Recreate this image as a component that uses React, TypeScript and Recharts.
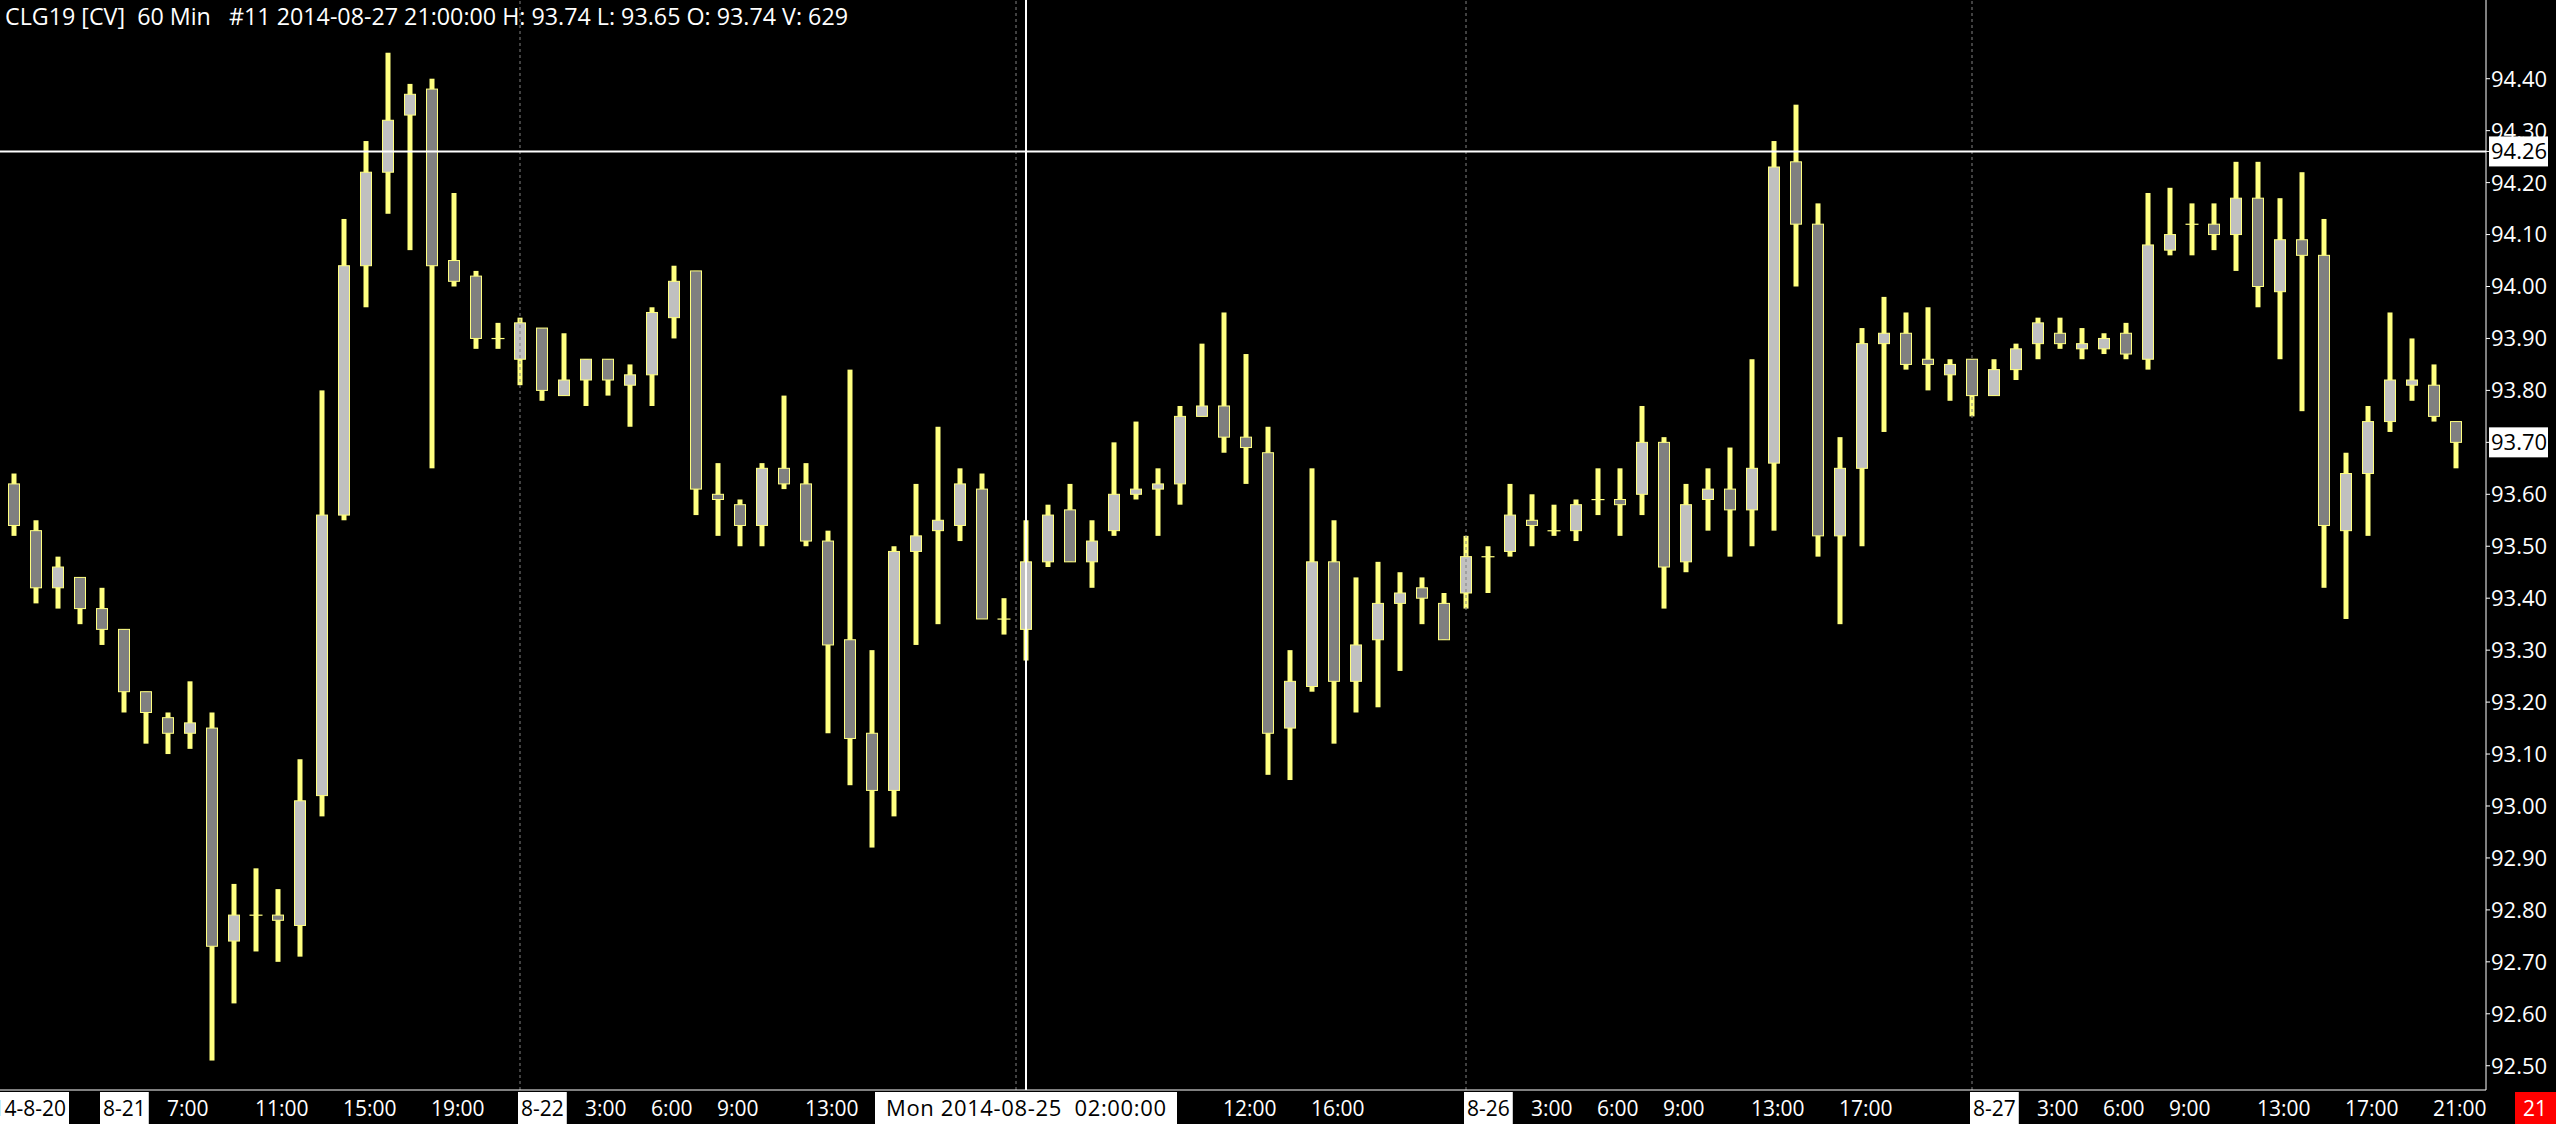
import React, { useLayoutEffect, useRef, useState } from 'react';
import { ComposedChart, Bar, XAxis, YAxis, ReferenceLine } from 'recharts';

// CLG19 [CV] 60 min bars, 2014-08-20 .. 2014-08-27
const opens = [
  93.62, 93.53, 93.42, 93.44, 93.38, 93.34, 93.22, 93.17, 93.14, 93.15,
  92.74, 92.79, 92.79, 92.77, 93.02, 93.56, 94.04, 94.22, 94.33, 94.38,
  94.05, 94.02, 93.90, 93.86, 93.92, 93.79, 93.82, 93.86, 93.81, 93.83,
  93.94, 94.03, 93.60, 93.58, 93.54, 93.65, 93.62, 93.51, 93.32, 93.14,
  93.03, 93.49, 93.53, 93.54, 93.61, 93.36, 93.34, 93.47, 93.57, 93.47,
  93.53, 93.60, 93.61, 93.62, 93.75, 93.77, 93.71, 93.68, 93.15, 93.23,
  93.47, 93.24, 93.32, 93.39, 93.42, 93.39, 93.41, 93.48, 93.49, 93.55,
  93.53, 93.53, 93.59, 93.59, 93.60, 93.70, 93.47, 93.59, 93.61, 93.57,
  93.66, 94.24, 94.12, 93.52, 93.65, 93.89, 93.91, 93.86, 93.83, 93.86,
  93.79, 93.84, 93.89, 93.91, 93.88, 93.88, 93.91, 93.86, 94.07, 94.12,
  94.12, 94.10, 94.17, 93.99, 94.09, 94.06, 93.53, 93.64, 93.74, 93.81,
  93.81, 93.74,
];
const highs = [
  93.64, 93.55, 93.48, 93.44, 93.42, 93.34, 93.22, 93.18, 93.24, 93.18,
  92.85, 92.88, 92.84, 93.09, 93.80, 94.13, 94.28, 94.45, 94.39, 94.40,
  94.18, 94.03, 93.93, 93.94, 93.92, 93.91, 93.86, 93.86, 93.85, 93.96,
  94.04, 94.03, 93.66, 93.59, 93.66, 93.79, 93.66, 93.53, 93.84, 93.30,
  93.50, 93.62, 93.73, 93.65, 93.64, 93.40, 93.55, 93.58, 93.62, 93.55,
  93.70, 93.74, 93.65, 93.77, 93.89, 93.95, 93.87, 93.73, 93.30, 93.65,
  93.55, 93.44, 93.47, 93.45, 93.44, 93.41, 93.52, 93.50, 93.62, 93.60,
  93.58, 93.59, 93.65, 93.65, 93.77, 93.71, 93.62, 93.65, 93.69, 93.86,
  94.28, 94.35, 94.16, 93.71, 93.92, 93.98, 93.95, 93.96, 93.86, 93.86,
  93.86, 93.89, 93.94, 93.94, 93.92, 93.91, 93.93, 94.18, 94.19, 94.16,
  94.16, 94.24, 94.24, 94.17, 94.22, 94.13, 93.68, 93.77, 93.95, 93.90,
  93.85, 93.74,
];
const lows = [
  93.52, 93.39, 93.38, 93.35, 93.31, 93.18, 93.12, 93.10, 93.11, 92.51,
  92.62, 92.72, 92.70, 92.71, 92.98, 93.55, 93.96, 94.14, 94.07, 93.65,
  94.00, 93.88, 93.88, 93.81, 93.78, 93.79, 93.77, 93.79, 93.73, 93.77,
  93.90, 93.56, 93.52, 93.50, 93.50, 93.61, 93.50, 93.14, 93.04, 92.92,
  92.98, 93.31, 93.35, 93.51, 93.36, 93.33, 93.28, 93.46, 93.47, 93.42,
  93.52, 93.59, 93.52, 93.58, 93.75, 93.68, 93.62, 93.06, 93.05, 93.22,
  93.12, 93.18, 93.19, 93.26, 93.35, 93.32, 93.38, 93.41, 93.48, 93.50,
  93.52, 93.51, 93.56, 93.52, 93.56, 93.38, 93.45, 93.53, 93.48, 93.50,
  93.53, 94.00, 93.48, 93.35, 93.50, 93.72, 93.84, 93.80, 93.78, 93.75,
  93.79, 93.82, 93.86, 93.88, 93.86, 93.87, 93.86, 93.84, 94.06, 94.06,
  94.07, 94.03, 93.96, 93.86, 93.76, 93.42, 93.36, 93.52, 93.72, 93.78,
  93.74, 93.65,
];
const closes = [
  93.54, 93.42, 93.46, 93.38, 93.34, 93.22, 93.18, 93.14, 93.16, 92.73,
  92.79, 92.79, 92.78, 93.01, 93.56, 94.04, 94.22, 94.32, 94.37, 94.04,
  94.01, 93.90, 93.90, 93.93, 93.80, 93.82, 93.86, 93.82, 93.83, 93.95,
  94.01, 93.61, 93.59, 93.54, 93.65, 93.62, 93.51, 93.31, 93.13, 93.03,
  93.49, 93.52, 93.55, 93.62, 93.36, 93.36, 93.47, 93.56, 93.47, 93.51,
  93.60, 93.61, 93.62, 93.75, 93.77, 93.71, 93.69, 93.14, 93.24, 93.47,
  93.24, 93.31, 93.39, 93.41, 93.40, 93.32, 93.48, 93.48, 93.56, 93.54,
  93.53, 93.58, 93.59, 93.58, 93.70, 93.46, 93.58, 93.61, 93.57, 93.65,
  94.23, 94.12, 93.52, 93.65, 93.89, 93.91, 93.85, 93.85, 93.85, 93.79,
  93.84, 93.88, 93.93, 93.89, 93.89, 93.90, 93.87, 94.08, 94.10, 94.12,
  94.10, 94.17, 94.00, 94.09, 94.06, 93.54, 93.64, 93.74, 93.82, 93.82,
  93.75, 93.70,
];

// bottom axis labels (bar index -> text)
const timeTickBars = [0, 4, 7, 11, 15, 19, 23, 26, 29, 32, 36, 46, 55, 59, 66, 69, 72, 75, 79, 83, 89, 92, 95, 98, 102, 106, 110];
const timeTickLabels = [
  '2014-8-20', '8-21', '7:00', '11:00', '15:00', '19:00', '8-22', '3:00', '6:00', '9:00', '13:00',
  'Mon 2014-08-25  02:00:00', '12:00', '16:00', '8-26', '3:00', '6:00', '9:00', '13:00', '17:00',
  '8-27', '3:00', '6:00', '9:00', '13:00', '17:00', '21:00',
];
const dayStartBars = [4, 23, 66, 89];
const priceTicks = [
  92.5, 92.6, 92.7, 92.8, 92.9, 93.0, 93.1, 93.2, 93.3, 93.4,
  93.5, 93.6, 93.7, 93.8, 93.9, 94.0, 94.1, 94.2, 94.3, 94.4,
];
const cursorPrice = 94.26;
const lastPrice = 93.7;
const cursorBar = 46;

const W = 2556;
const H = 1124;
const FONT = '"Open Sans", "Noto Sans", sans-serif';
const WICK = '#ffff80';
const LABEL_Y = 1116;

const data = opens.map((o, i) => ({ i, o, h: highs[i], l: lows[i], c: closes[i] }));

const Candle = (props: any) => {
  const { x, y, width, height, payload } = props;
  const { o, h, l, c } = payload;
  const cx = x + width / 2;
  const k = h === l ? 0 : height / (h - l);
  const py = (v: number) => y + (h - v) * k;
  const top = py(Math.max(o, c));
  const bot = py(Math.min(o, c));
  return (
    <g>
      <rect x={cx - 2.5} y={y} width={5} height={Math.max(height, 1)} fill={WICK} />
      {o === c ? (
        <rect x={cx - 6.5} y={top - 0.5} width={13} height={1.2} fill={WICK} />
      ) : (
        <rect
          x={cx - 5.5}
          y={top}
          width={11}
          height={bot - top}
          fill={c > o ? '#c0c0c0' : '#808080'}
          stroke={WICK}
          strokeWidth={1}
        />
      )}
    </g>
  );
};

type BoxProps = { x: number; anchor: 'start' | 'middle' | 'end'; text: string; pad?: number; size?: number; len?: number };

const BoxLabel = ({ x, anchor, text, pad = 3, size = 21, len }: BoxProps) => {
  const ref = useRef<SVGTextElement>(null);
  const [box, setBox] = useState<{ x: number; w: number } | null>(null);
  useLayoutEffect(() => {
    if (ref.current) {
      const b = ref.current.getBBox();
      setBox({ x: b.x, w: b.width });
    }
  }, [x, text]);
  return (
    <g>
      {box && <rect x={box.x - pad} y={1092} width={box.w + pad * 2} height={32} fill="#fff" />}
      <text
        ref={ref}
        x={x}
        y={LABEL_Y}
        textAnchor={anchor}
        fill="#000"
        fontSize={size}
        fontFamily={FONT}
        textLength={len}
        lengthAdjust={len ? 'spacing' : undefined}
        style={{ whiteSpace: 'pre' }}
      >
        {text}
      </text>
    </g>
  );
};

const TimeTick = (props: any) => {
  const { x, payload } = props;
  const bar = payload.value;
  const k = timeTickBars.indexOf(bar);
  if (k < 0) return null;
  const text = timeTickLabels[k];
  if (bar === 0) return <BoxLabel x={66} anchor="end" text={text} />;
  if (bar === cursorBar) return <BoxLabel x={x} anchor="middle" text={text} pad={11} size={22} len={280} />;
  if (dayStartBars.includes(bar)) return <BoxLabel x={x + 1} anchor="start" text={text} />;
  return (
    <text x={x - 1} y={LABEL_Y} fill="#fff" fontSize={21} fontFamily={FONT}>
      {text}
    </text>
  );
};

const PriceTick = (props: any) => {
  const { y, payload } = props;
  const v = payload.value;
  const boxed = v === cursorPrice || v === lastPrice;
  return (
    <g>
      {boxed && <rect x={2489} y={y - 15} width={59} height={30} fill="#fff" />}
      <text x={2491} y={y} dy="0.36em" fill={boxed ? '#000' : '#fff'} fontSize={22} fontFamily={FONT}>
        {v.toFixed(2)}
      </text>
    </g>
  );
};

const App: React.FC = () => {
  return (
    <div style={{ position: 'fixed', left: 0, top: 0, width: W, height: H, background: '#000' }}>
      <ComposedChart width={W} height={H} data={data} margin={{ top: 0, right: 0, bottom: 0, left: 0 }}>
        <XAxis
          dataKey="i"
          type="category"
          interval={0}
          height={34}
          padding={{ left: 3, right: 19 }}
          axisLine={{ stroke: '#fff', strokeWidth: 1 }}
          tickLine={false}
          tick={<TimeTick />}
        />
        <YAxis
          orientation="right"
          type="number"
          width={70}
          domain={[92.4533, 94.5515]}
          allowDataOverflow
          ticks={[...priceTicks, cursorPrice]}
          interval={0}
          axisLine={{ stroke: '#fff', strokeWidth: 1 }}
          tickLine={{ stroke: '#fff' }}
          tickSize={4}
          tick={<PriceTick />}
        />
        {dayStartBars.slice(1).map((b) => (
          <ReferenceLine key={b} x={b} stroke="#808080" strokeDasharray="3 3" />
        ))}
        <ReferenceLine
          x={45}
          stroke="#808080"
          strokeDasharray="3 3"
          shape={(p: any) => <line x1={p.x1 + 12} y1={p.y1} x2={p.x2 + 12} y2={p.y2} stroke="#808080" strokeDasharray="3 3" />}
        />
        <Bar
          dataKey={(d: any) => [d.l, d.h]}
          barSize={12}
          shape={<Candle />}
          isAnimationActive={false}
        />
        <ReferenceLine y={cursorPrice} stroke="#fff" strokeWidth={2} />
        <ReferenceLine x={cursorBar} stroke="#fff" strokeWidth={2} />
      </ComposedChart>
      <svg width={W} height={H} style={{ position: 'absolute', left: 0, top: 0, pointerEvents: 'none' }}>
        <text
          x={5}
          y={25}
          fill="#fff"
          fontSize={23}
          fontFamily={FONT}
          textLength={843}
          lengthAdjust="spacingAndGlyphs"
          style={{ whiteSpace: 'pre' }}
        >
          {'CLG19 [CV]  60 Min   #11 2014-08-27 21:00:00 H: 93.74 L: 93.65 O: 93.74 V: 629'}
        </text>
        <rect x={2515} y={1092} width={41} height={32} fill="#ff0000" />
        <text x={2535} y={LABEL_Y} textAnchor="middle" fill="#fff" fontSize={21} fontFamily={FONT}>
          21
        </text>
      </svg>
    </div>
  );
};

export default App;
